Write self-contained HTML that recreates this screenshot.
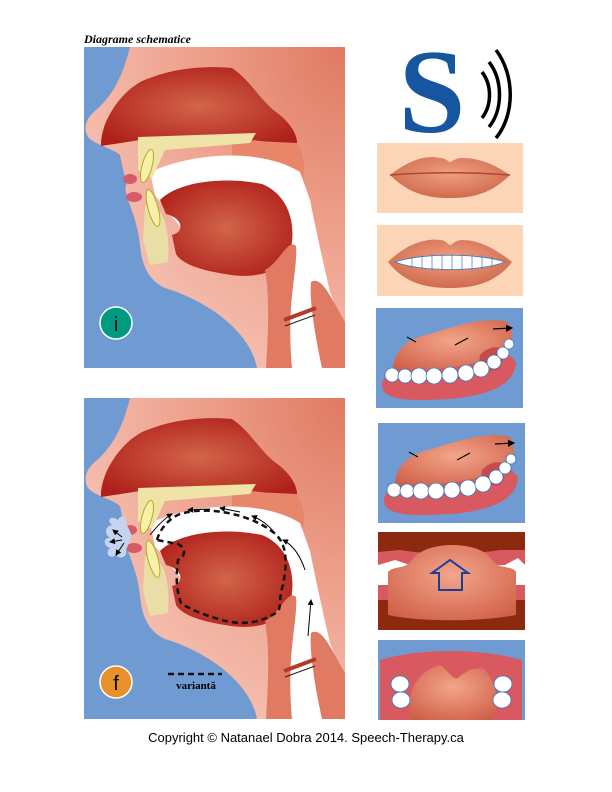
<!DOCTYPE html>
<html><head><meta charset="utf-8"><style>
html,body{margin:0;padding:0;background:#fff;}
svg{display:block;}
</style></head><body>
<svg width="612" height="792" viewBox="0 0 612 792" xmlns="http://www.w3.org/2000/svg">
<defs>
<radialGradient id="skin" cx="1" cy="0" r="1.2">
<stop offset="0" stop-color="#e07a62"/><stop offset="0.5" stop-color="#eea28e"/><stop offset="1" stop-color="#f7c6b8"/></radialGradient>
<radialGradient id="red1" cx="0.5" cy="0.5" r="0.6"><stop offset="0" stop-color="#d2654a"/><stop offset="1" stop-color="#b0201a"/></radialGradient>
<radialGradient id="lipg" cx="0.5" cy="0.4" r="0.6"><stop offset="0" stop-color="#f0a080"/><stop offset="1" stop-color="#d06a4e"/></radialGradient>
<radialGradient id="tong" cx="0.5" cy="0.4" r="0.7"><stop offset="0" stop-color="#f3a58a"/><stop offset="1" stop-color="#cf6048"/></radialGradient>
<clipPath id="pc"><rect x="84" y="47" width="261" height="321"/></clipPath>
<g id="head">
<rect x="84" y="47" width="261" height="321" fill="#6f9bd2"/>
<path d="M130,47 L345,47 L345,368 L257,368 C250,330 205,300 165,288 C148,280 142,265 140,245 C138,225 132,212 130,205 C126,196 124,188 127,183 C124,175 122,165 120,155 C112,148 95,145 88,137 C83,128 86,118 96,110 C110,98 122,80 130,47 Z" fill="url(#skin)"/>
<path d="M101,146 C100,120 125,85 150,78 C170,70 200,65 232,68 C250,80 260,100 276,112 C290,122 298,135 297,145 L250,140 L140,140 Z" fill="url(#red1)"/>
<path d="M232,140 L297,143 C306,158 306,175 300,182 C285,170 260,160 232,155 Z" fill="#e8866a"/>
<path d="M150,172 C200,150 265,150 300,172 L310,200 C318,240 325,270 330,292 L345,330 L345,368 L290,368 L283,300 L275,265 L200,252 L155,195 Z" fill="#fff"/>
<path d="M138,137 L256,133 L250,143 L165,150 L152,178 L138,170 Z" fill="#efe3a8"/>
<path d="M145,205 C165,205 170,230 168,262 L150,265 L143,240 Z" fill="#e9dfa6"/>
<path d="M160,200 C178,182 222,176 262,184 C292,196 298,232 288,258 C277,274 250,279 225,274 C200,270 182,264 176,254 L172,235 C185,232 183,218 166,214 Z" fill="url(#red1)"/>
<path d="M265,270 C280,262 288,238 296,246 C298,272 286,300 292,368 L266,368 C269,322 269,292 265,270 Z" fill="#e07a62"/>
<path d="M311,282 C322,275 332,300 345,322 L345,368 L322,368 C316,340 309,302 311,282 Z" fill="#e07a62"/>
<path d="M284,320 L316,308" stroke="#b33a2a" stroke-width="4"/>
<path d="M285,326 L315,315" stroke="#222" stroke-width="1"/>
<ellipse cx="130" cy="179" rx="7" ry="5" fill="#d65a6a"/>
<ellipse cx="134" cy="197" rx="8" ry="5" fill="#d65a6a"/>
<ellipse cx="147" cy="166" rx="5" ry="17" transform="rotate(15 147 166)" fill="#f6f0a8" stroke="#b8a820"/>
<ellipse cx="153" cy="208" rx="5" ry="19" transform="rotate(-15 153 208)" fill="#f6f0a8" stroke="#b8a820"/>
</g>
<marker id="ah" markerWidth="6" markerHeight="6" refX="5" refY="3" orient="auto"><path d="M0,0 L6,3 L0,6 Z" fill="#000"/></marker>
<g id="tp">
<rect x="376" y="308" width="147" height="100" fill="#6f9bd2"/>
<path d="M382,385 C382,372 400,372 420,372 L505,350 L516,362 C515,392 470,400 420,400 C395,400 382,396 382,385 Z" fill="#d85a60"/>
<path d="M393,368 C395,348 410,338 430,334 C455,326 485,316 508,322 C515,335 512,348 505,352 L480,362 C450,368 420,372 393,372 Z" fill="url(#tong)"/>
<path d="M480,355 C490,345 500,345 506,352 L498,370 L478,372 Z" fill="#c94a4a"/>
<g fill="#fff" stroke="#3a7ac0" stroke-width="0.8">
<circle cx="392" cy="375" r="7"/><circle cx="405" cy="376" r="7"/><circle cx="419" cy="376" r="8"/><circle cx="434" cy="376" r="8"/><circle cx="450" cy="375" r="8"/><circle cx="466" cy="373" r="8"/><circle cx="481" cy="369" r="8"/><circle cx="494" cy="362" r="7"/><circle cx="503" cy="353" r="6"/><circle cx="509" cy="344" r="5"/>
</g>
<g stroke="#000" stroke-width="1.2" fill="none"><path d="M407,337 L416,342"/><path d="M455,345 L468,338"/><path d="M493,329 L512,328" marker-end="url(#ah)"/></g>
</g>
</defs>

<text x="84" y="43" font-family="Liberation Serif, serif" font-style="italic" font-weight="bold" font-size="12">Diagrame schematice</text>

<g clip-path="url(#pc)"><use href="#head"/></g>
<circle cx="116" cy="323" r="16" fill="#009a82" stroke="#fff" stroke-width="1.5"/>
<text x="116" y="331" text-anchor="middle" font-family="Liberation Sans, sans-serif" font-size="20">i</text>

<g transform="translate(0,351)"><g clip-path="url(#pc)"><use href="#head"/></g></g>
<path d="M112,525 C105,520 112,515 118,520 C120,514 128,516 126,523 L132,536 L126,550 C128,557 120,560 116,555 C110,560 104,553 110,548 C102,545 104,537 110,538 C103,533 106,526 112,525 Z" fill="#c6d3ee"/>
<path d="M157,540 C160,528 172,515 184,513 C210,506 250,515 270,530 C287,540 288,560 283,585 C278,600 282,608 277,612 C260,624 240,625 222,620 C200,614 188,608 181,603 C176,590 176,575 178,560 C186,556 186,548 178,544 Z" fill="none" stroke="#111" stroke-width="2.5" stroke-dasharray="6,4"/>
<g stroke="#000" stroke-width="1" fill="none" marker-end="url(#ah)">
<path d="M122,537 L113,530"/><path d="M122,540 L110,542"/><path d="M124,543 L116,555"/>
<path d="M150,535 C158,525 165,518 172,514"/>
<path d="M210,509 L188,510"/><path d="M240,512 L220,508"/>
<path d="M275,533 C268,525 262,520 252,516"/>
<path d="M305,570 C300,555 293,545 283,540"/>
<path d="M308,636 L311,600"/>
</g>
<circle cx="116" cy="682" r="16" fill="#e8902a" stroke="#fff" stroke-width="1.5"/>
<text x="116" y="690" text-anchor="middle" font-family="Liberation Sans, sans-serif" font-size="20">f</text>
<path d="M168,674 L222,674" stroke="#111" stroke-width="2.5" stroke-dasharray="6,4"/>
<text x="196" y="689" text-anchor="middle" font-family="Liberation Serif, serif" font-weight="bold" font-size="11">variantă</text>

<text x="432" y="132" text-anchor="middle" font-family="Liberation Serif, serif" font-weight="bold" font-size="120" fill="#1656a0">S</text>
<g fill="none" stroke="#000" stroke-width="3.5">
<path d="M482,72 C492,85 492,105 482,118"/>
<path d="M489,62 C503,80 503,110 489,127"/>
<path d="M496,50 C515,75 515,115 496,138"/>
</g>

<rect x="377" y="143" width="146" height="70" fill="#fbd5b5"/>
<path d="M390,175 C410,160 425,155 440,158 C446,158 448,162 450,162 C452,162 455,158 462,158 C480,158 495,165 510,175 C490,195 470,198 450,198 C430,198 410,195 390,175 Z" fill="url(#lipg)"/>
<path d="M390,175 C430,172 470,172 510,175" stroke="#a84a36" stroke-width="1.5" fill="none"/>

<rect x="377" y="225" width="146" height="71" fill="#fbd5b5"/>
<path d="M388,262 C405,245 425,238 440,240 C446,240 448,245 450,245 C452,245 455,240 462,240 C480,240 497,250 512,262 C495,284 472,288 450,288 C428,288 405,284 388,262 Z" fill="url(#lipg)"/>
<path d="M395,262 C420,253 480,253 505,262 C480,272 420,272 395,262 Z" fill="#fff" stroke="#3a7ac0" stroke-width="0.8"/>
<g stroke="#3a7ac0" stroke-width="0.7"><path d="M412,257 V268 M422,255 V269 M432,254 V270 M442,254 V270 M452,254 V270 M462,254 V270 M472,254 V270 M482,255 V269 M492,257 V268"/></g>

<use href="#tp"/>
<use href="#tp" transform="translate(2,115)"/>

<rect x="378" y="532" width="147" height="98" fill="#8c2a10"/>
<path d="M378,552 L400,550 C430,555 470,555 500,550 L525,550 L525,600 L378,600 Z" fill="#d85a60"/>
<path d="M378,565 L395,560 L410,565 L505,565 L518,558 L525,565 L525,585 L378,585 Z" fill="#fff"/>
<path d="M388,572 C395,565 405,570 412,560 C420,548 440,545 452,545 C465,545 485,548 492,560 C500,570 512,565 516,572 L516,615 C480,622 420,622 388,615 Z" fill="url(#tong)"/>
<path d="M439,573 L439,590 L462,590 L462,573 L468,573 L450,560 L432,573 Z" fill="none" stroke="#1a3f9a" stroke-width="2"/>

<rect x="378" y="640" width="147" height="80" fill="#6f9bd2"/>
<path d="M380,660 C420,648 480,648 522,660 L522,720 L380,720 Z" fill="#d85a60"/>
<path d="M410,720 C405,690 420,670 440,665 C450,672 452,680 458,678 C465,672 475,665 485,670 C500,690 500,710 492,720 Z" fill="url(#tong)"/>
<g fill="#fff" stroke="#3a7ac0" stroke-width="0.8">
<ellipse cx="400" cy="684" rx="9" ry="8"/><ellipse cx="401" cy="700" rx="9" ry="8"/>
<ellipse cx="503" cy="684" rx="9" ry="8"/><ellipse cx="502" cy="700" rx="9" ry="8"/>
</g>

<text x="306" y="742" text-anchor="middle" font-family="Liberation Sans, sans-serif" font-size="13">Copyright © Natanael Dobra 2014. Speech-Therapy.ca</text>
</svg>
</body></html>
